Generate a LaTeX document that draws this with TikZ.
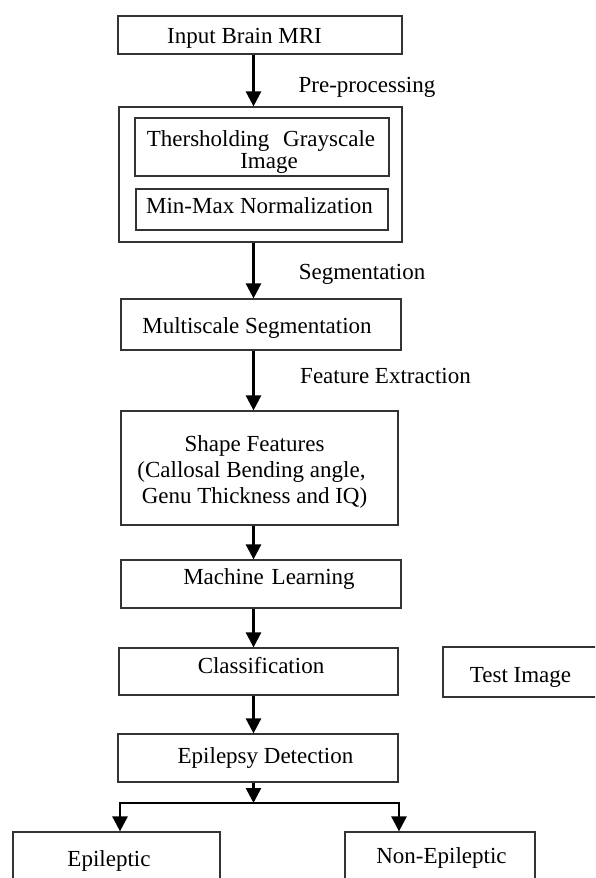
\documentclass[tikz,border=0pt]{standalone}
\usepackage{fontspec}
\setmainfont{Liberation Serif}
\usetikzlibrary{arrows.meta}
\begin{document}
\begin{tikzpicture}[x=1pt,y=-1pt,
  box/.style={draw=black!80, line width=1.2pt, inner sep=0pt},
  txt/.style={font=\fontsize{23}{26}\selectfont, inner sep=0pt, anchor=base},
  arr/.style={line width=2.6pt, -{Triangle[length=15pt,width=15pt]}}]
\useasboundingbox (0,0) rectangle (595,878);
\clip (0,0) rectangle (595,878);
\coordinate (spine) at (253.5,0);

% boxes
\node[box, minimum width=284pt, minimum height=38pt]  (input)     at (260,35)    {};
\node[box, minimum width=283pt, minimum height=135pt] (pre)       at (260.5,174.5) {};
\node[box, minimum width=254pt, minimum height=58pt]  (thresh)    at (262,147)   {};
\node[box, minimum width=252pt, minimum height=41pt]  (norm)      at (262,209.5) {};
\node[box, minimum width=280pt, minimum height=51pt]  (multi)     at (261,324.5) {};
\node[box, minimum width=277pt, minimum height=114pt] (shape)     at (259.5,468) {};
\node[box, minimum width=280pt, minimum height=48pt]  (machine)   at (261,584)   {};
\node[box, minimum width=279pt, minimum height=47pt]  (classif)   at (258.5,671.5) {};
\node[box, minimum width=157pt, minimum height=50pt]  (test)      at (521.5,672) {};
\node[box, minimum width=280pt, minimum height=48pt]  (detect)    at (258,758)   {};
\node[box, minimum width=207pt, minimum height=68pt]  (epileptic) at (116.5,866) {};
\node[box, minimum width=190pt, minimum height=68pt]  (nonep)     at (440,866)   {};

% texts
\node[txt] (input-t)   at (244.5,43)  {Input Brain MRI};
\node[txt] (pre-t)     at (367,92)    {Pre-processing};
\node[txt] (thresh-t1) at (261,146)   {Thersholding\hspace{13.75pt}Grayscale};
\node[txt] (thresh-t2) at (269,168)   {Image};
\node[txt] (norm-t)    at (259.5,213) {Min-Max Normalization};
\node[txt] (seg-t)     at (362,279)   {Segmentation};
\node[txt] (multi-t)   at (257,333)   {Multiscale Segmentation};
\node[txt] (feat-t)    at (385.5,383) {Feature Extraction};
\node[txt] (shape-t1)  at (254.5,451) {Shape Features};
\node[txt] (shape-t2)  at (251.5,477) {(Callosal Bending angle,};
\node[txt] (shape-t3)  at (254.5,503) {Genu Thickness and IQ)};
\node[txt] (machine-t) at (269,584)   {Machine\hspace{8pt}Learning};
\node[txt] (classif-t) at (261,673)   {Classification};
\node[txt] (test-t)    at (520.5,682) {Test Image};
\node[txt] (detect-t)  at (265.5,763) {Epilepsy Detection};
\node[txt] (epil-t)    at (109,866)   {Epileptic};
\node[txt] (nonep-t)   at (441.5,863) {Non-Epileptic};

% connectors
\draw[arr] (input.south -| spine)   -- (pre.north -| spine);
\draw[arr] (pre.south -| spine)     -- (multi.north -| spine);
\draw[arr] (multi.south -| spine)   -- (shape.north -| spine);
\draw[arr] (shape.south -| spine)   -- (machine.north -| spine);
\draw[arr] (machine.south -| spine) -- (classif.north -| spine);
\draw[arr] (classif.south -| spine) -- (detect.north -| spine);
\coordinate (split) at (253.5,803);
\draw[arr] (detect.south -| spine) -- (split);
\draw[arr] (split) -| ([xshift=3.5pt]epileptic.north);
\draw[arr] (split) -| ([xshift=-41pt]nonep.north);
\end{tikzpicture}
\end{document}
